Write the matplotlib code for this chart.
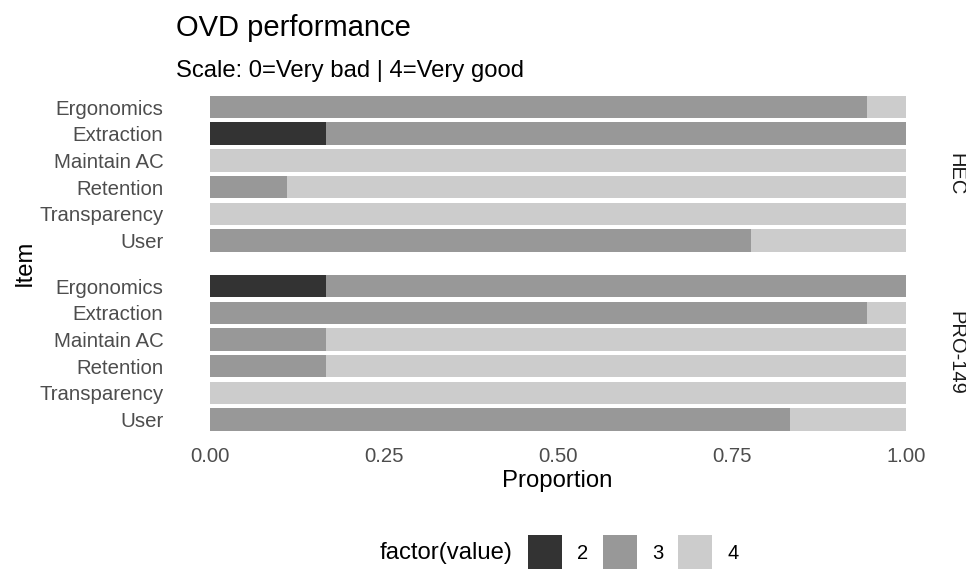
import matplotlib
matplotlib.use("Agg")
import matplotlib.pyplot as plt
from matplotlib.patches import Patch
import numpy as np

plt.rcParams['font.family'] = ['Liberation Sans', 'DejaVu Sans']

items = ["Ergonomics", "Extraction", "Maintain AC", "Retention", "Transparency", "User"]
groups = ["HEC", "PRO-149"]
levels = ["2", "3", "4"]
level_colors = ["#333333", "#989898", "#cccccc"]

# proportions per level (2, 3, 4) for each item
hec_2 = [0.0, 1/6, 0.0, 0.0, 0.0, 0.0]
hec_3 = [17/18, 5/6, 0.0, 1/9, 0.0, 7/9]
hec_4 = [1/18, 0.0, 1.0, 8/9, 1.0, 2/9]

pro_2 = [1/6, 0.0, 0.0, 0.0, 0.0, 0.0]
pro_3 = [5/6, 17/18, 1/6, 1/6, 0.0, 5/6]
pro_4 = [0.0, 1/18, 5/6, 5/6, 1.0, 1/6]

data = {"HEC": [hec_2, hec_3, hec_4], "PRO-149": [pro_2, pro_3, pro_4]}

W, H = 966, 569
fig = plt.figure(figsize=(W / 100, H / 100), dpi=100)

def fx(px):
    return px / W

def fy(py):
    return 1 - py / H

panel_left, panel_right = 175.2, 940.8
panels = [(91.0, 256.5), (270.0, 435.6)]

tick_color = "#4d4d4d"
axes = []
for gi, (g, (top, bot)) in enumerate(zip(groups, panels)):
    ax = fig.add_axes([fx(panel_left), fy(bot), fx(panel_right - panel_left), (bot - top) / H])
    y = np.arange(len(items))
    left = np.zeros(len(items))
    for lev, col, vals in zip(levels, level_colors, data[g]):
        vals = np.array(vals)
        ax.barh(y, vals, left=left, height=0.84, color=col, edgecolor="none")
        left = left + vals
    ax.set_xlim(-0.05, 1.05)
    ax.set_ylim(len(items) - 0.4, -0.6)
    ax.set_yticks(y)
    ax.set_yticklabels(items)
    for s in ax.spines.values():
        s.set_visible(False)
    ax.tick_params(axis="both", length=0, labelsize=14.7, colors=tick_color, pad=8.5)
    ax.set_xticks([0, 0.25, 0.5, 0.75, 1.0])
    if gi == 0:
        ax.set_xticklabels([])
    else:
        ax.set_xticklabels(["0.00", "0.25", "0.50", "0.75", "1.00"])
    ax.text(1.0 + 15.0 / (panel_right - panel_left), 0.5, g, transform=ax.transAxes,
            rotation=270, ha="center", va="center", fontsize=14.5, color="#1a1a1a")
    axes.append(ax)

fig.text(fx(176), fy(36), "OVD performance", fontsize=21, ha="left", va="baseline", color="black")
fig.text(fx(176), fy(77), "Scale: 0=Very bad | 4=Very good", fontsize=17.2, ha="left", va="baseline", color="black")
fig.text(fx(557), fy(487), "Proportion", fontsize=17.2, ha="center", va="baseline", color="black")
fig.text(fx(25), fy(263), "Item", fontsize=17.2, ha="center", va="center", rotation=90, color="black")

fig.text(fx(513), fy(553), "factor(value)", fontsize=17.2, ha="right", va="center", color="black")
handles = [Patch(facecolor=c, edgecolor="none", label=l) for c, l in zip(level_colors, levels)]
leg = fig.legend(handles=handles, loc="center left", bbox_to_anchor=(fx(528), fy(553)),
                 ncol=3, frameon=False, fontsize=14.5, handlelength=1.7, handleheight=2.4,
                 handletextpad=0.75, columnspacing=0.72, borderpad=0, borderaxespad=0)
for t in leg.get_texts():
    t.set_color("black")

fig.savefig("out.png", dpi=100)
